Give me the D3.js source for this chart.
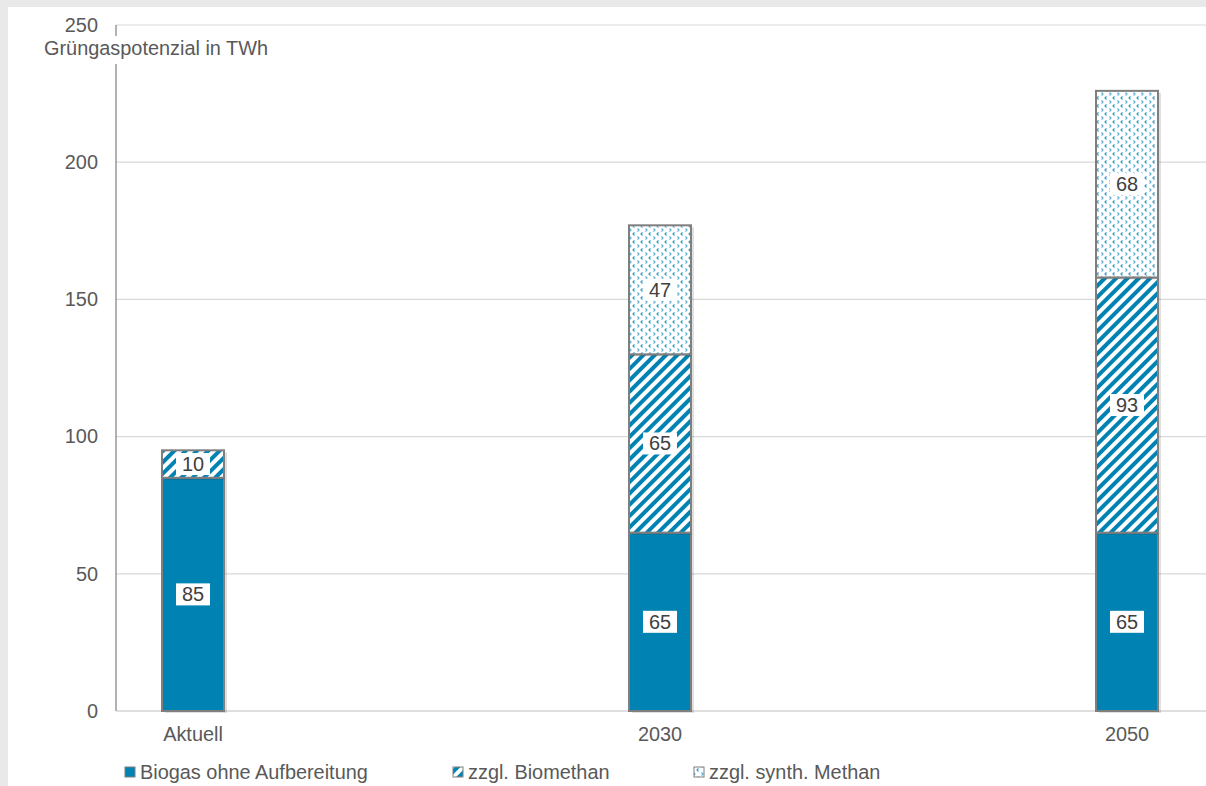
<!DOCTYPE html>
<html>
<head>
<meta charset="utf-8">
<script src="https://cdn.jsdelivr.net/npm/d3@7"></script>
<style>
  body { margin: 0; background: #e9e9e9; }
  text { font-family: "Liberation Sans", Arial, sans-serif; }
</style>
</head>
<body>
<div id="chart"></div>
<script>
// categories and stacked values (TWh)
var categories = ["Aktuell", "2030", "2050"];
var biogas = [85, 65, 65];
var biomethan = [10, 65, 93];
var synthMethan = [0, 47, 68];
var seriesNames = ["Biogas ohne Aufbereitung", "zzgl. Biomethan", "zzgl. synth. Methan"];
var yTicks = [0, 50, 100, 150, 200, 250];

var W = 1206, H = 786;
var fs = 19.9;
var svg = d3.select("#chart").append("svg")
    .attr("width", W).attr("height", H);

// panel
svg.append("rect").attr("x", 8).attr("y", 7).attr("width", W - 8).attr("height", H - 7).attr("fill", "#fff");

var defs = svg.append("defs");
var stripes = defs.append("pattern").attr("id", "stripes")
    .attr("patternUnits", "userSpaceOnUse")
    .attr("width", 8).attr("height", 8)
    .attr("patternTransform", "rotate(45)");
stripes.append("rect").attr("width", 8).attr("height", 8).attr("fill", "#fff");
stripes.append("rect").attr("x", 0).attr("y", 0).attr("width", 4).attr("height", 8).attr("fill", "#0083b3");

var dots = defs.append("pattern").attr("id", "dots")
    .attr("patternUnits", "userSpaceOnUse")
    .attr("width", 8).attr("height", 8);
dots.append("rect").attr("width", 8).attr("height", 8).attr("fill", "#fff");
dots.append("path").attr("d", "M2.5,0.5 l-1.5,1.5 l1.5,1.5").attr("stroke", "#2f97c6").attr("stroke-width", 1.2).attr("fill", "none");
dots.append("path").attr("d", "M5.5,4.5 l1.5,1.5 l-1.5,1.5").attr("stroke", "#5aaed6").attr("stroke-width", 1.2).attr("fill", "none");

var fills = ["#0083b3", "url(#stripes)", "url(#dots)"];

var y = d3.scaleLinear().domain([0, 250]).range([711, 25]);
var x = d3.scalePoint().domain(categories).range([193, 1127]);
var barW = 62;

// gridlines
svg.append("g").selectAll("line").data(yTicks.slice(1)).join("line")
    .attr("x1", 116).attr("x2", W).attr("y1", function(d) { return y(d); }).attr("y2", function(d) { return y(d); })
    .attr("stroke", "#d9d9d9").attr("stroke-width", 1.2);

// y axis
var yAxis = svg.append("g").attr("transform", "translate(116,0)")
    .call(d3.axisLeft(y).tickValues(yTicks).tickSize(0).tickPadding(18));
yAxis.select(".domain").remove();
yAxis.selectAll("text").attr("font-size", fs).attr("fill", "#595959");
svg.append("line").attr("x1", 116).attr("x2", 116).attr("y1", y(250)).attr("y2", 36).attr("stroke", "#7f7f7f").attr("stroke-width", 1.2);
svg.append("line").attr("x1", 116).attr("x2", 116).attr("y1", 64).attr("y2", y(0)).attr("stroke", "#7f7f7f").attr("stroke-width", 1.2);
svg.append("line").attr("x1", 116).attr("x2", W).attr("y1", y(0)).attr("y2", y(0)).attr("stroke", "#bfbfbf").attr("stroke-width", 1.2);

svg.append("text").attr("x", 44).attr("y", 55).text("Grüngaspotenzial in TWh")
    .attr("font-size", fs).attr("fill", "#595959");

// x labels
svg.append("g").selectAll("text").data(categories).join("text")
    .attr("x", function(d) { return x(d); }).attr("y", 741)
    .attr("text-anchor", "middle").attr("font-size", fs).attr("fill", "#595959")
    .text(function(d) { return d; });

// stacked data
var rows = categories.map(function(c, i) {
  return { cat: c, s0: biogas[i], s1: biomethan[i], s2: synthMethan[i] };
});
var stack = d3.stack().keys(["s0", "s1", "s2"])(rows);

stack.forEach(function(layer, li) {
  layer.forEach(function(d, i) {
    var v = d[1] - d[0];
    if (v <= 0) return;
    var cx = x(categories[i]);
    // shadow
    svg.append("rect").attr("x", cx - barW / 2 + 3).attr("y", y(d[1]) + 2)
      .attr("width", barW).attr("height", y(d[0]) - y(d[1]))
      .attr("fill", "#000").attr("opacity", 0.12);
    svg.append("rect").attr("x", cx - barW / 2).attr("y", y(d[1]))
      .attr("width", barW).attr("height", y(d[0]) - y(d[1]))
      .attr("fill", fills[li]).attr("stroke", "#7f7f7f").attr("stroke-width", 2);
  });
});

// value labels
stack.forEach(function(layer, li) {
  layer.forEach(function(d, i) {
    var v = d[1] - d[0];
    if (v <= 0) return;
    var cx = x(categories[i]);
    var cy = (y(d[0]) + y(d[1])) / 2;
    svg.append("rect").attr("x", cx - 17).attr("y", cy - 11).attr("width", 34).attr("height", 22).attr("fill", "#fff");
    svg.append("text").attr("x", cx).attr("y", cy + 7).attr("text-anchor", "middle")
      .attr("font-size", fs).attr("fill", "#404040").text(v);
  });
});

// legend
var legX = [125, 453, 694];
seriesNames.forEach(function(n, i) {
  svg.append("rect").attr("x", legX[i]).attr("y", 767).attr("width", 10).attr("height", 10)
    .attr("fill", fills[i]).attr("stroke", "#7f7f7f").attr("stroke-width", 1);
  svg.append("text").attr("x", legX[i] + 15).attr("y", 779).attr("font-size", fs).attr("fill", "#595959").text(n);
});
</script>
</body>
</html>
